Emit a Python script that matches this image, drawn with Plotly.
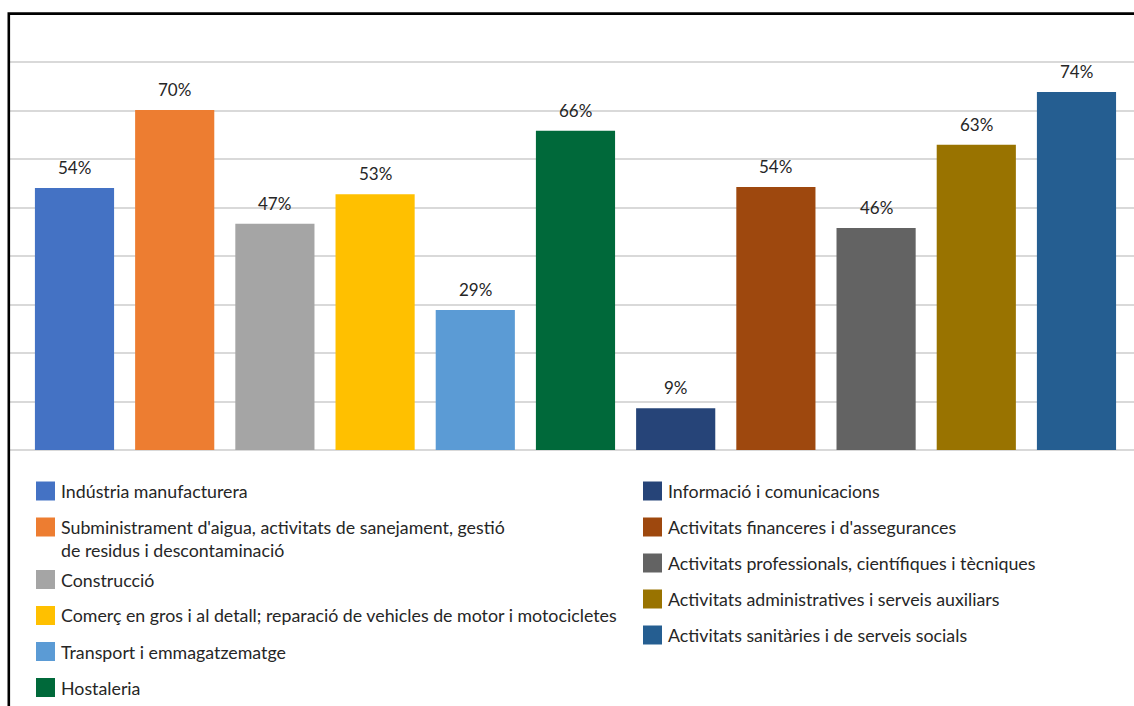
import plotly.graph_objects as go

categories = [
    "Indústria manufacturera",
    "Subministrament d'aigua, activitats de sanejament, gestió de residus i descontaminació",
    "Construcció",
    "Comerç en gros i al detall; reparació de vehicles de motor i motocicletes",
    "Transport i emmagatzematge",
    "Hostaleria",
    "Informació i comunicacions",
    "Activitats financeres i d'assegurances",
    "Activitats professionals, científiques i tècniques",
    "Activitats administratives i serveis auxiliars",
    "Activitats sanitàries i de serveis socials",
]
legend_lines = [
    ["Indústria manufacturera"],
    ["Subministrament d'aigua, activitats de sanejament, gestió", "de residus i descontaminació"],
    ["Construcció"],
    ["Comerç en gros i al detall; reparació de vehicles de motor i motocicletes"],
    ["Transport i emmagatzematge"],
    ["Hostaleria"],
    ["Informació i comunicacions"],
    ["Activitats financeres i d'assegurances"],
    ["Activitats professionals, científiques i tècniques"],
    ["Activitats administratives i serveis auxiliars"],
    ["Activitats sanitàries i de serveis socials"],
]
values = [0.541, 0.702, 0.467, 0.528, 0.289, 0.659, 0.086, 0.543, 0.458, 0.630, 0.739]
colors = ["#4472C4", "#ED7D31", "#A5A5A5", "#FFC000", "#5B9BD5", "#00693A",
          "#264478", "#9E480E", "#636363", "#997300", "#255E91"]

FONT = "Lato, 'Open Sans', sans-serif"
TXT = "#262626"

W, H = 1134, 706
L, R, T, B = 10, 0, 14, 256
pw, ph = W - L - R, H - T - B


def px_x(x):
    return (x - L) / pw


def px_y(y):
    return (H - B - y) / ph


xs = list(range(len(categories)))
fig = go.Figure()
fig.add_trace(go.Bar(
    x=xs, y=values, marker=dict(color=colors, line=dict(width=0)),
    width=0.79, hoverinfo="skip", showlegend=False,
))

annotations = []
for x, v in zip(xs, values):
    annotations.append(dict(
        x=x, y=v, xref="x", yref="y", text=f"{round(v * 100):d}%",
        showarrow=False, yanchor="bottom", yshift=8,
        font=dict(family=FONT, size=17, color=TXT),
    ))

shapes = []
# legend: two columns, column-major
col_x = [36, 643]
row_y0 = 491
row_step = 36
line_step = 23
for i, lines in enumerate(legend_lines):
    if i < 6:
        col = 0
        y = row_y0 + row_step * i + (16.5 if i >= 2 else 0)
    else:
        col = 1
        y = row_y0 + row_step * (i - 6)
    sx = col_x[col]
    shapes.append(dict(
        type="rect", xref="paper", yref="paper",
        x0=px_x(sx), x1=px_x(sx + 19), y0=px_y(y + 9.5), y1=px_y(y - 9.5),
        fillcolor=colors[i], line=dict(width=0), layer="above",
    ))
    for k, line in enumerate(lines):
        annotations.append(dict(
            x=px_x(sx + 23), y=px_y(y + k * line_step), xref="paper", yref="paper",
            text=line, showarrow=False, xanchor="left", yanchor="middle",
            font=dict(family=FONT, size=17.8, color=TXT),
        ))

# outer frame
shapes.append(dict(
    type="rect", xref="paper", yref="paper",
    x0=px_x(8.8), x1=px_x(W + 20), y0=px_y(H + 20), y1=px_y(13.6),
    line=dict(color="black", width=2.6), fillcolor="rgba(0,0,0,0)", layer="above",
))

fig.update_layout(
    width=W, height=H,
    margin=dict(l=L, r=R, t=T, b=B),
    paper_bgcolor="white", plot_bgcolor="white",
    showlegend=False,
    xaxis=dict(range=[-0.6437, 10.574], showticklabels=False, showgrid=False,
               zeroline=False, showline=False, ticks=""),
    yaxis=dict(range=[0, 0.9], dtick=0.1, showticklabels=False, showgrid=True,
               gridcolor="#D9D9D9", gridwidth=1.5, zeroline=True,
               zerolinecolor="#D9D9D9", zerolinewidth=1.5, showline=False, ticks=""),
    annotations=annotations, shapes=shapes,
    font=dict(family=FONT, color=TXT),
)

fig.write_html("out.html", config={"displayModeBar": False},
               post_script="document.body.style.margin='0';document.body.style.overflow='hidden';")
